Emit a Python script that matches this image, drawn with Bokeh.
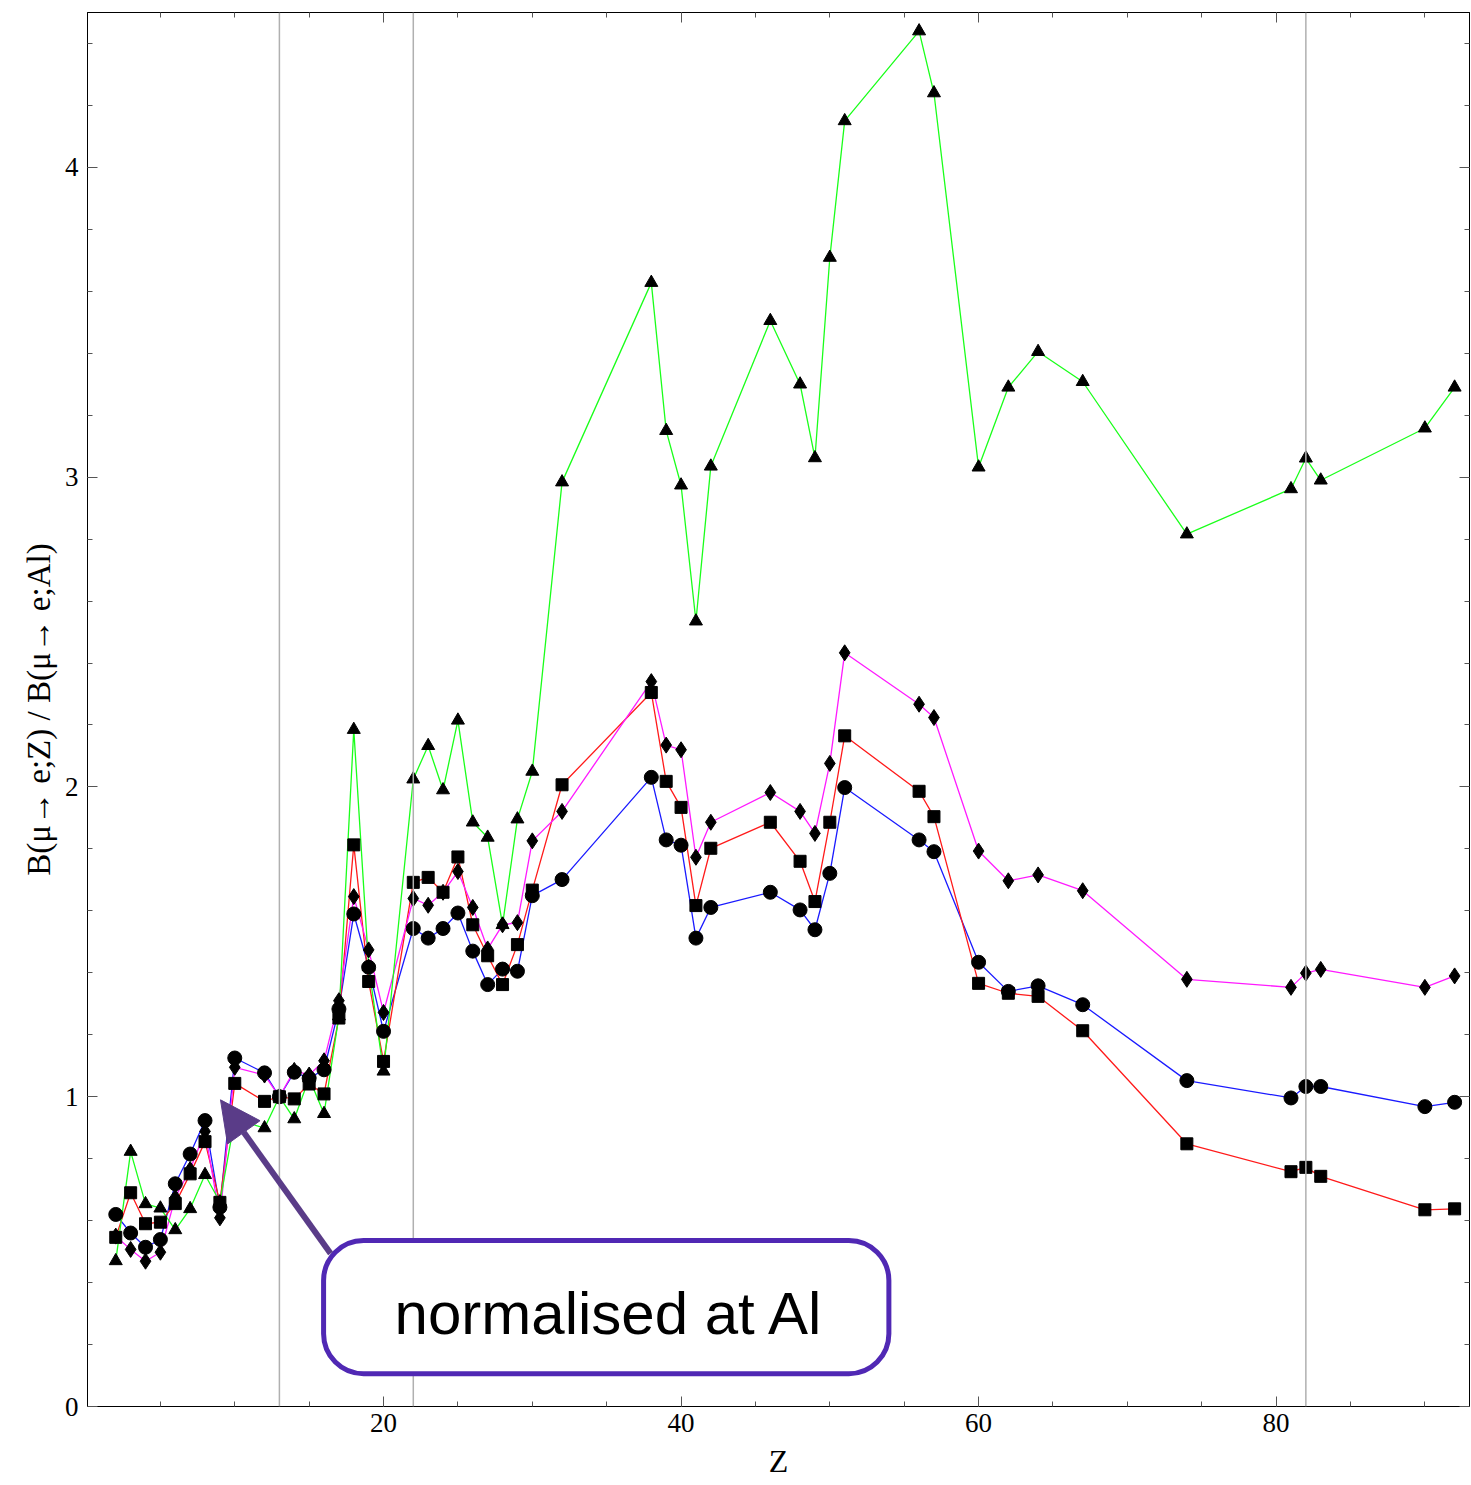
from bokeh.plotting import figure
from bokeh.models import (Range1d, LinearAxis, SingleIntervalTicker, Span,
                          BoxAnnotation, Arrow, NormalHead, Label,
                          CustomJSTickFormatter)
from bokeh.embed import file_html
from bokeh.resources import INLINE

# ---- data -------------------------------------------------------------
Z = [2, 3, 4, 5, 6, 7, 8, 9, 10, 12, 13, 14, 15, 16, 17, 18, 19, 20,
     22, 23, 24, 25, 26, 27, 28, 29, 30, 32, 38, 39, 40, 41, 42, 46,
     48, 49, 50, 51, 56, 57, 60, 62, 64, 67, 74, 81, 82, 83, 90, 92]

blue_circles = [0.62, 0.56, 0.514, 0.539, 0.719, 0.815, 0.923, 0.643, 1.125, 1.077,
                1.0, 1.079, 1.06, 1.087, 1.283, 1.59, 1.418, 1.211,
                1.543, 1.512, 1.543, 1.593, 1.47, 1.362, 1.412, 1.405, 1.649, 1.701,
                2.031, 1.829, 1.812, 1.512, 1.611, 1.66,
                1.603, 1.539, 1.721, 1.998, 1.829, 1.791, 1.434, 1.34, 1.358, 1.297,
                1.052, 0.996, 1.033, 1.033, 0.968, 0.982]

red_squares = [0.546, 0.69, 0.59, 0.595, 0.655, 0.751, 0.855, 0.659, 1.043, 0.985,
               1.0, 0.993, 1.041, 1.009, 1.254, 1.813, 1.372, 1.114,
               1.692, 1.708, 1.66, 1.774, 1.555, 1.455, 1.362, 1.491, 1.667, 2.007,
               2.305, 2.018, 1.934, 1.617, 1.802, 1.886,
               1.76, 1.63, 1.886, 2.165, 1.986, 1.904, 1.366, 1.334, 1.324, 1.213,
               0.848, 0.758, 0.772, 0.743, 0.635, 0.638]

magenta_diamonds = [0.55, 0.507, 0.469, 0.498, 0.675, 0.765, 0.888, 0.609, 1.095, 1.07,
                    1.0, 1.085, 1.07, 1.116, 1.31, 1.646, 1.474, 1.272,
                    1.64, 1.618, 1.66, 1.727, 1.611, 1.477, 1.555, 1.562, 1.826, 1.921,
                    2.34, 2.135, 2.12, 1.773, 1.886, 1.982,
                    1.921, 1.85, 2.076, 2.433, 2.267, 2.224, 1.793, 1.697, 1.716, 1.665,
                    1.379, 1.353, 1.399, 1.411, 1.353, 1.39]

green_triangles = [0.47, 0.823, 0.654, 0.64, 0.57, 0.638, 0.748, 0.66, 0.928, 0.899,
                   1.0, 0.928, 1.06, 0.945, 1.26, 2.185, 1.42, 1.082,
                   2.025, 2.133, 1.99, 2.215, 1.886, 1.837, 1.555, 1.896, 2.05, 2.984,
                   3.628, 3.15, 2.974, 2.535, 3.035, 3.505,
                   3.30, 3.062, 3.709, 4.15, 4.44, 4.24, 3.032, 3.29, 3.405, 3.308,
                   2.816, 2.962, 3.061, 2.99, 3.158, 3.29]

ref_Z = [13, 22, 82]          # vertical reference lines

note_text = "normalised at Al"
note_box = dict(left=15.97, right=53.97, top=0.536, bottom=0.106)
note_xy = (35.2, 0.300)
arrow_from = (16.44, 0.494)
arrow_to = (9.04, 0.990)

# ---- figure -----------------------------------------------------------
serif = "Liberation Serif"
p = figure(width=1471, height=1485, output_backend="svg", toolbar_location=None,
           x_range=Range1d(0.1, 93.0), y_range=Range1d(0, 4.5),
           min_border_left=87, min_border_right=2, min_border_top=12,
           min_border_bottom=79, x_axis_label="Z",
           y_axis_label="B(μ→ e;Z) / B(μ→ e;Al)")
p.grid.visible = False
p.outline_line_color = "black"
p.outline_line_width = 1
p.background_fill_color = "white"
p.border_fill_color = "white"

p.xaxis.ticker = SingleIntervalTicker(interval=20, num_minor_ticks=4)
p.yaxis.ticker = SingleIntervalTicker(interval=1, num_minor_ticks=5)
for ax in (p.xaxis[0], p.yaxis[0]):
    ax.major_tick_in = 10
    ax.major_tick_out = 0
    ax.minor_tick_in = 5
    ax.minor_tick_out = 0
    ax.major_label_text_font = serif
    ax.major_label_text_font_size = "27px"
    ax.major_label_text_color = "black"
    ax.axis_label_text_font = serif
    ax.axis_label_text_font_style = "normal"
    ax.axis_label_text_color = "black"
    ax.axis_line_color = "black"
    ax.major_tick_line_color = "#555555"
    ax.minor_tick_line_color = "#555555"
p.xaxis.axis_label_text_font_size = "32px"
p.yaxis.axis_label_text_font_size = "33px"
p.xaxis.major_label_standoff = 7
p.xaxis.axis_label_standoff = 8
p.yaxis.major_label_standoff = 9
p.yaxis.axis_label_standoff = 5

# mirrored ticks on top and right (no labels)
blank = CustomJSTickFormatter(code="return ''")
top_ax = LinearAxis(ticker=SingleIntervalTicker(interval=20, num_minor_ticks=4),
                    formatter=blank)
right_ax = LinearAxis(ticker=SingleIntervalTicker(interval=1, num_minor_ticks=5),
                      formatter=blank)
for ax in (top_ax, right_ax):
    ax.major_tick_in = 10
    ax.major_tick_out = 0
    ax.minor_tick_in = 5
    ax.minor_tick_out = 0
    ax.major_label_text_font_size = "1px"
    ax.major_label_standoff = 0
    ax.axis_line_color = "black"
    ax.major_tick_line_color = "#555555"
    ax.minor_tick_line_color = "#555555"
p.add_layout(top_ax, "above")
p.add_layout(right_ax, "right")

# reference lines
for z in ref_Z:
    p.add_layout(Span(location=z, dimension="height", line_color="#b0b0b0",
                      line_width=1.5))

# series lines, then markers
series = [
    (blue_circles, "#1a1aff", "circle", 14),
    (red_squares, "#ff1a1a", "square", 12),
    (magenta_diamonds, "#ff1aff", "diamond", 16),
    (green_triangles, "#1aff1a", "triangle", 13),
]
for vals, col, mk, sz in series:
    p.line(Z, vals, line_color=col, line_width=1.3)
for vals, col, mk, sz in series:
    p.scatter(Z, vals, marker=mk, size=sz, fill_color="black", line_color="black")

# annotation
p.add_layout(BoxAnnotation(left=note_box["left"], right=note_box["right"],
                           top=note_box["top"], bottom=note_box["bottom"],
                           fill_color="white", fill_alpha=1.0,
                           line_color="#5028b4", line_width=5, line_alpha=1.0,
                           border_radius=40))
p.add_layout(Arrow(end=NormalHead(size=40, fill_color="#5a3c88",
                                  line_color="#5a3c88"),
                   x_start=arrow_from[0], y_start=arrow_from[1],
                   x_end=arrow_to[0], y_end=arrow_to[1],
                   line_color="#5a3c88", line_width=6))
p.add_layout(Label(x=note_xy[0], y=note_xy[1], text=note_text,
                   text_align="center", text_baseline="alphabetic",
                   text_font="Liberation Sans", text_font_size="60px",
                   text_color="black"))

open("out.html", "w").write(file_html(p, INLINE))
